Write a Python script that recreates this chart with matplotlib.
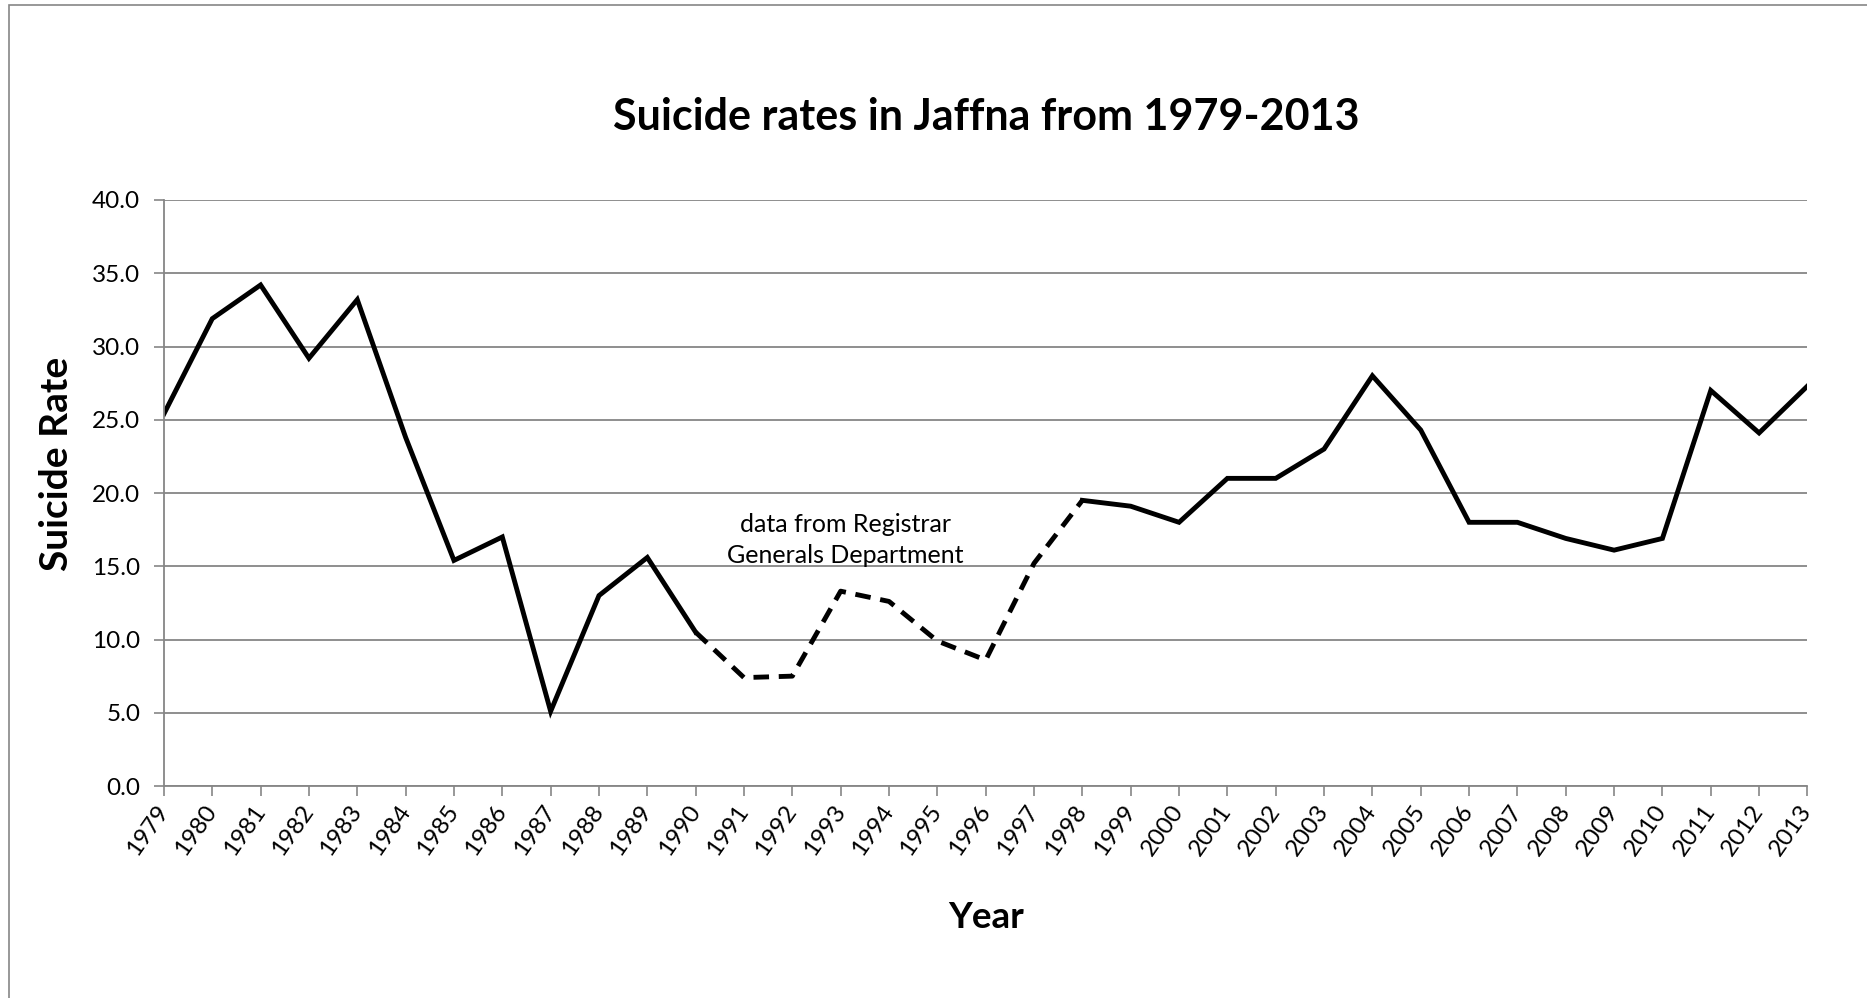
import matplotlib
matplotlib.use("Agg")
import matplotlib.pyplot as plt
from matplotlib.patches import Rectangle

plt.rcParams['font.family'] = ['Lato', 'DejaVu Sans']

years = list(range(1979, 2014))
rates = [25.4, 31.9, 34.2, 29.2, 33.2, 23.8, 15.4, 17.0, 5.1, 13.0,
         15.6, 10.5, 7.4, 7.5, 13.3, 12.6, 9.9, 8.6, 15.2, 19.5,
         19.1, 18.0, 21.0, 21.0, 23.0, 28.0, 24.3, 18.0, 18.0, 16.9,
         16.1, 16.9, 27.0, 24.1, 27.3]
# years estimated from other sources (dashed part of the line)
gap_start, gap_end = 1990, 1998
y_ticks = [0, 5, 10, 15, 20, 25, 30, 35, 40]

grid_col = "#868686"

fig = plt.figure(figsize=(18.67, 9.98), dpi=100)
fig.patches.append(Rectangle((0.0048, -0.1), 1.2, 1.095, transform=fig.transFigure,
                             fill=False, edgecolor=grid_col, linewidth=1.2))

ax = fig.add_axes([0.0878, 0.2124, 0.8803, 0.5872])

i0 = years.index(gap_start)
i1 = years.index(gap_end)
ax.plot(years[:i0 + 1], rates[:i0 + 1], color="black", lw=3.5, solid_joinstyle="miter")
ax.plot(years[i0:i1 + 1], rates[i0:i1 + 1], color="black", lw=3.5,
        linestyle=(0, (3.2, 2.0)), dash_capstyle="butt")
ax.plot(years[i1:], rates[i1:], color="black", lw=3.5, solid_joinstyle="miter")

ax.set_xlim(years[0], years[-1])
ax.set_ylim(0, 40)
ax.set_yticks(y_ticks)
ax.set_yticklabels([f"{v:.1f}" for v in y_ticks], fontsize=17.5)
ax.set_xticks(years)
ax.set_xticklabels([str(y) for y in years], fontsize=17.5, rotation=55,
                   ha="right", va="center", rotation_mode="anchor")
ax.tick_params(axis="x", length=7, width=1.2, color=grid_col, pad=8)
ax.tick_params(axis="y", length=7, width=1.2, color=grid_col, pad=10)

ax.grid(axis="y", color=grid_col, linewidth=1.3)
ax.set_axisbelow(True)
for side in ["top", "right"]:
    ax.spines[side].set_visible(False)
for side in ["left", "bottom"]:
    ax.spines[side].set_color(grid_col)
    ax.spines[side].set_linewidth(1.3)

ax.set_ylabel("Suicide Rate", fontsize=28, fontweight="bold")
ax.yaxis.set_label_coords(-0.055, 0.549)
ax.set_xlabel("Year", fontsize=26.5, fontweight="bold", labelpad=30)
fig.text(0.528, 0.883, "Suicide rates in Jaffna from 1979-2013", fontsize=31,
         fontweight="bold", ha="center", va="center")

ax.text(1993.1, 16.8, "data from Registrar\nGenerals Department", fontsize=18,
        ha="center", va="center", linespacing=1.4)

fig.savefig("out.png", dpi=100)
